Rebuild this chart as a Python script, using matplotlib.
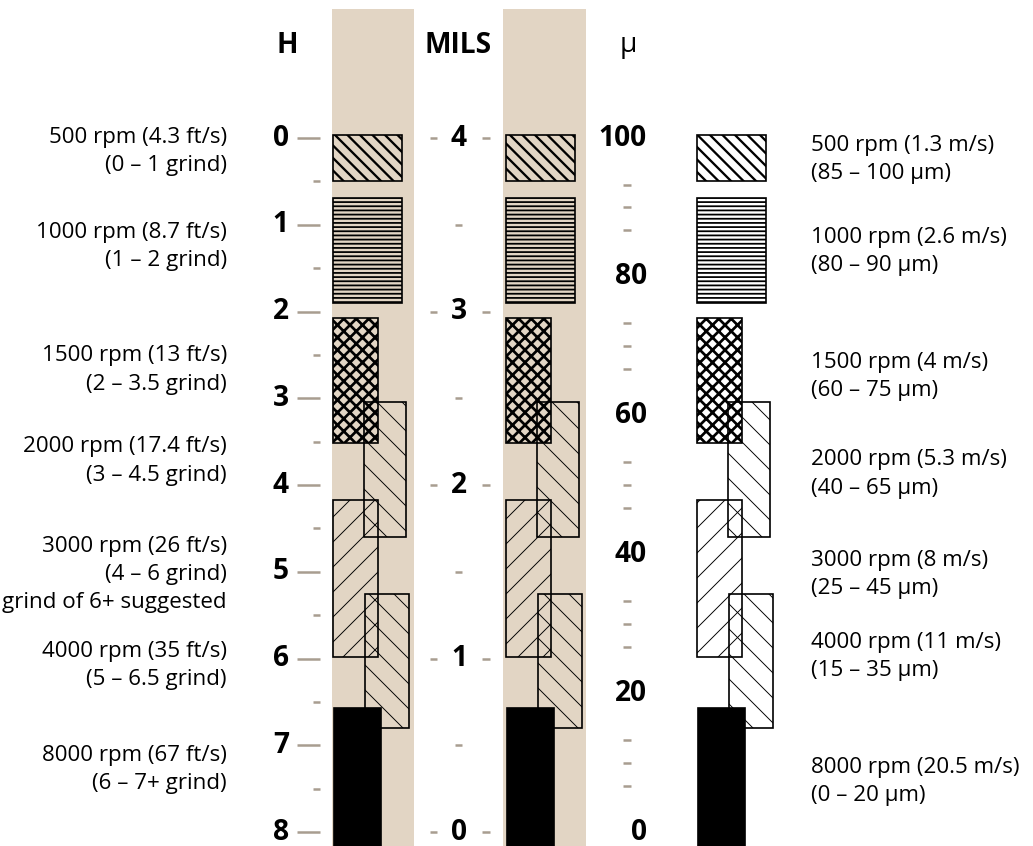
# Disperser speed vs. fineness of grind: H (Hegman), mils and microns

import matplotlib.pyplot as plt
from matplotlib.patches import Rectangle

plt.rcParams['font.family'] = ['Open Sans', 'DejaVu Sans']

# scales
h_ticks = [0, 1, 2, 3, 4, 5, 6, 7, 8]
h_minor = [0.5, 1.5, 2.5, 3.5, 4.5, 5.5, 6.5, 7.5]
mil_ticks = [4, 3, 2, 1, 0]
mil_minor = [3.5, 2.5, 1.5, 0.5]
micron_ticks = [100, 80, 60, 40, 20, 0]
micron_minor = [93.3, 90, 86.7, 73.3, 70, 66.7, 53.3, 50, 46.7,
                33.3, 30, 26.7, 13.3, 10, 6.7]

# speed bands, extent read on the H scale
rpm = [500, 1000, 1500, 2000, 3000, 4000, 8000]
bar_top = [-0.03, 0.69, 2.07, 3.04, 4.17, 5.26, 6.57]
bar_bottom = [0.5, 1.9, 3.52, 4.6, 5.98, 6.8, 8.2]
hatches = ['\\\\', '---', 'xx', '\\', '/', '\\', None]

left_labels = [
    '500 rpm (4.3 ft/s)\n(0 – 1 grind)',
    '1000 rpm (8.7 ft/s)\n(1 – 2 grind)',
    '1500 rpm (13 ft/s)\n(2 – 3.5 grind)',
    '2000 rpm (17.4 ft/s)\n(3 – 4.5 grind)',
    '3000 rpm (26 ft/s)\n(4 – 6 grind)\ngrind of 6+ suggested',
    '4000 rpm (35 ft/s)\n(5 – 6.5 grind)',
    '8000 rpm (67 ft/s)\n(6 – 7+ grind)',
]
right_labels = [
    '500 rpm (1.3 m/s)\n(85 – 100 µm)',
    '1000 rpm (2.6 m/s)\n(80 – 90 µm)',
    '1500 rpm (4 m/s)\n(60 – 75 µm)',
    '2000 rpm (5.3 m/s)\n(40 – 65 µm)',
    '3000 rpm (8 m/s)\n(25 – 45 µm)',
    '4000 rpm (11 m/s)\n(15 – 35 µm)',
    '8000 rpm (20.5 m/s)\n(0 – 20 µm)',
]


def mil_to_h(m):
    return (4 - m) * 2


def micron_to_h(u):
    return (100 - u) * 0.08


TAN = '#e2d5c4'
TICK = '#a89d90'

# layout (x in pixels, y in H units)
col_x = [333, 506, 697]
lanes = [(0, 69), (0, 69), (0, 45), (31, 42), (0, 45), (32, 44), (1, 47)]
hatch_lw = [2.2, 1.7, 2.6, 0.9, 0.9, 0.9, 1.0]
left_y = [0.161, 1.245, 2.674, 3.723, 5.026, 6.075, 7.274]
right_y = [0.242, 1.303, 2.744, 3.873, 5.026, 5.971, 7.412]
line_gap = 0.323

fig = plt.figure(figsize=(1033 / 75, 846 / 75), dpi=75)
ax = fig.add_axes([0, 0, 1, 1])
ax.set_xlim(0, 1033)
ax.set_ylim(8.161, -1.591)
ax.axis('off')

# tan bands behind the first two columns
for x0, x1 in [(332, 414), (503, 586)]:
    ax.add_patch(Rectangle((x0, -1.487), x1 - x0, 10, facecolor=TAN,
                           edgecolor='none', zorder=0))

# H scale
ax.hlines(h_ticks, 297, 320, color=TICK, lw=2.4)
ax.hlines(h_minor, 313, 320, color=TICK, lw=2.4)
for h in h_ticks:
    ax.text(289, h, str(h), ha='right', va='center', fontsize=27,
            weight='bold')

# MILS scale
for m in mil_ticks:
    y = mil_to_h(m)
    ax.hlines(y, 430, 437, color=TICK, lw=2.4)
    ax.hlines(y, 482, 490, color=TICK, lw=2.4)
    ax.text(459, y, str(m), ha='center', va='center', fontsize=27,
            weight='bold')
ax.hlines([mil_to_h(m) for m in mil_minor], 455, 462, color=TICK, lw=2.4)

# micron scale
for u in micron_ticks:
    ax.text(647, micron_to_h(u), str(u), ha='right', va='center',
            fontsize=27, weight='bold')
ax.hlines([micron_to_h(u) for u in micron_minor], 623, 631, color=TICK,
          lw=2.4)

# headers
ax.text(287, -1.072, 'H', ha='center', va='center', fontsize=27,
        weight='bold')
ax.text(458, -1.072, 'MILS', ha='center', va='center', fontsize=27,
        weight='bold')
ax.text(628, -1.072, 'µ', ha='center', va='center', fontsize=27)

# the speed bars, repeated in each column
for cx in col_x:
    for i in range(len(rpm)):
        dx, w = lanes[i]
        solid = hatches[i] is None
        rect = Rectangle((cx + dx, bar_top[i]), w, bar_bottom[i] - bar_top[i],
                         facecolor='black' if solid else 'none',
                         edgecolor='black', lw=1.6,
                         hatch=hatches[i], zorder=2 + i)
        if hasattr(rect, 'set_hatch_linewidth'):
            rect.set_hatch_linewidth(hatch_lw[i])
        ax.add_patch(rect)

# descriptions
for labels, ys, x, ha in [(left_labels, left_y, 227, 'right'),
                          (right_labels, right_y, 811, 'left')]:
    for text, yc in zip(labels, ys):
        lines = text.split('\n')
        y0 = yc - line_gap * (len(lines) - 1) / 2
        for k, line in enumerate(lines):
            ax.text(x, y0 + k * line_gap, line, ha=ha, va='center',
                    fontsize=21.5)

fig.savefig('out.png', dpi=75)
